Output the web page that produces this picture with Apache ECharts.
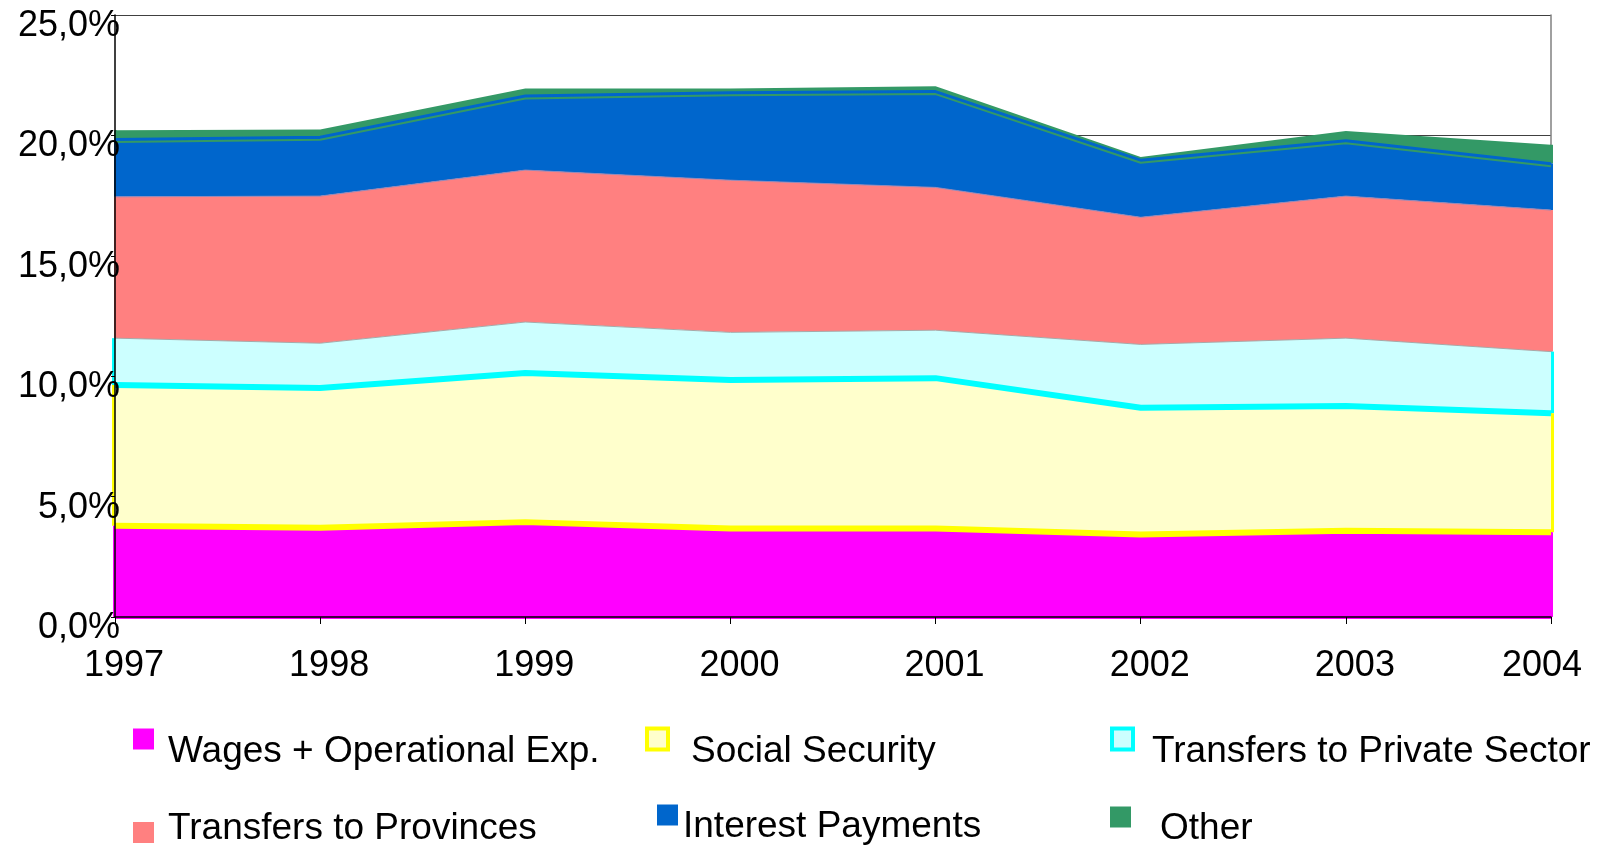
<!DOCTYPE html>
<html>
<head>
<meta charset="utf-8">
<script src="https://cdn.jsdelivr.net/npm/echarts@6/dist/echarts.min.js"></script>
<style>
  html, body { margin: 0; padding: 0; background: #ffffff; }
  #chart { width: 1599px; height: 846px; }
</style>
</head>
<body>
<div id="chart"></div>
<script>
// Years on the horizontal axis
const years = ['1997', '1998', '1999', '2000', '2001', '2002', '2003', '2004'];

// Expenditure components, % of GDP (stacked in this order)
const wages = [3.79, 3.71, 3.94, 3.68, 3.68, 3.43, 3.58, 3.52];
const socialSecurity = [5.84, 5.80, 6.19, 6.16, 6.24, 5.26, 5.18, 4.94];
const privateTransfers = [1.95, 1.86, 2.12, 1.98, 1.99, 2.63, 2.82, 2.56];
const provinces = [5.87, 6.11, 6.31, 6.32, 5.93, 5.28, 5.90, 5.88];
const interest = [2.40, 2.46, 3.10, 3.65, 4.00, 2.39, 2.32, 1.94];
const other = [0.36, 0.31, 0.29, 0.16, 0.20, 0.11, 0.38, 0.77];

// Value axis ticks and their labels
const yTickValues = [0, 5, 10, 15, 20, 25];
const yTickLabels = ['0,0%', '5,0%', '10,0%', '15,0%', '20,0%', '25,0%'];

const seriesNames = [
  'Wages + Operational Exp.',
  'Social Security',
  'Transfers to Private Sector',
  'Transfers to Provinces',
  'Interest Payments',
  'Other'
];
const layers = [wages, socialSecurity, privateTransfers, provinces, interest, other];

const FONT = '"Liberation Sans", Arial, Helvetica, sans-serif';

// Drawing style of each layer: fill, outline on the side edges, and the line on its top boundary
const looks = [
  { fill: '#FF00FF', edge: '#FF00FF', edgeW: 4, top: { color: '#FFFF00', width: 6 } },
  { fill: '#FFFFCC', edge: '#FFFF00', edgeW: 6, top: { color: '#00FFFF', width: 6 } },
  { fill: '#CCFFFF', edge: '#00FFFF', edgeW: 6, top: { color: '#A8A8A8', width: 1 } },
  { fill: '#FF8080', edge: '#FF8080', edgeW: 3, top: { color: '#9488B8', width: 1 } },
  { fill: '#0066CC', edge: '#0066CC', edgeW: 3,
    top: { color: '#0066CC', width: 2, shadowColor: '#339966', shadowBlur: 0, shadowOffsetX: 0, shadowOffsetY: 3 } },
  { fill: '#339966', edge: '#339966', edgeW: 3, top: { width: 0, opacity: 0 } }
];

// Running stack bottoms/tops, used for the outline strokes at the two ends
const stackBounds = [];
let running = years.map(() => 0);
layers.forEach(arr => {
  const base = running;
  running = running.map((v, i) => v + arr[i]);
  stackBounds.push({ base, top: running });
});

const last = years.length - 1;
const series = layers.map((arr, k) => {
  const look = looks[k];
  const b = stackBounds[k];
  const edgeLines = [
    [{ coord: [years[0], b.base[0]] }, { coord: [years[0], b.top[0]] }],
    [{ coord: [years[last], b.base[last]] }, { coord: [years[last], b.top[last]] }]
  ];
  if (k === 0) {
    edgeLines.push([{ coord: [years[0], 0] }, { coord: [years[last], 0] }]);
  }
  return {
    name: seriesNames[k],
    type: 'line',
    stack: 'total',
    data: arr,
    xAxisIndex: 0,
    yAxisIndex: 0,
    symbol: 'none',
    showSymbol: false,
    silent: true,
    z: 8 - k,
    itemStyle: { color: look.fill },
    lineStyle: look.top,
    areaStyle: { color: look.fill, opacity: 1 },
    emphasis: { disabled: true },
    markLine: {
      silent: true,
      symbol: 'none',
      label: { show: false },
      z: 8 - k,
      animation: false,
      lineStyle: { color: look.edge, width: look.edgeW, type: 'solid' },
      emphasis: { disabled: true },
      data: edgeLines
    }
  };
});

// Legend: two rows of three entries. "lift" is an empty rich-text line that
// moves the caption below (positive) or above (negative) the centre of its swatch.
const legendSpots = [
  { left: 133, top: 717, gap: 9, lift: 26 },
  { left: 645, top: 717, gap: 18, lift: 26 },
  { left: 1110, top: 717, gap: 14, lift: 26 },
  { left: 133, top: 810, gap: 9, lift: -8 },
  { left: 657, top: 793, gap: 0, lift: 23 },
  { left: 1110, top: 795, gap: 24, lift: 23 }
];
const legendIcons = [
  { color: '#FF00FF', borderWidth: 0 },
  { color: '#FFFFCC', borderColor: '#FFFF00', borderWidth: 4 },
  { color: '#CCFFFF', borderColor: '#00FFFF', borderWidth: 4 },
  { color: '#FF8080', borderWidth: 0 },
  { color: '#0066CC', borderWidth: 0 },
  { color: '#339966', borderWidth: 0 }
];
const legends = seriesNames.map((name, k) => {
  const spot = legendSpots[k];
  const h = Math.abs(spot.lift);
  return {
    show: true,
    left: spot.left,
    top: spot.top,
    orient: 'horizontal',
    icon: 'rect',
    itemWidth: 21,
    itemHeight: 21,
    itemGap: 0,
    padding: 0,
    selectedMode: false,
    formatter: n => spot.lift >= 0 ? '{s| }\n{t|' + n + '}' : '{t|' + n + '}\n{s| }',
    textStyle: {
      color: '#000000',
      fontFamily: FONT,
      fontSize: 37,
      padding: [0, 0, 0, spot.gap],
      rich: {
        s: { fontSize: 2, lineHeight: h, fontFamily: FONT },
        t: { fontSize: 37, lineHeight: 42, fontFamily: FONT, color: '#000000' }
      }
    },
    data: [{ name: name, icon: 'rect', itemStyle: legendIcons[k] }]
  };
});

const xLabels = years.map((y, i) => i === last
  ? { value: y, textStyle: { padding: [0, 18, 0, 0] } }
  : y);

const option = {
  animation: false,
  backgroundColor: '#ffffff',
  grid: {
    left: 115, top: 15, right: 48, bottom: 229,
    containLabel: false, outerBoundsMode: 'none', show: false
  },
  legend: legends,
  xAxis: [
    {
      type: 'category',
      data: xLabels,
      boundaryGap: false,
      position: 'bottom',
      z: 10,
      axisLine: { show: true, lineStyle: { color: '#000000', width: 1.5 } },
      axisTick: { show: true, length: 7, lineStyle: { color: '#000000', width: 1 } },
      axisLabel: {
        show: true, color: '#000000', fontSize: 36, fontFamily: FONT,
        margin: 39, verticalAlign: 'top', lineHeight: 20,
        padding: [0, 0, 0, 18], interval: 0
      },
      splitLine: { show: false }
    },
    {
      type: 'category',
      data: years,
      boundaryGap: false,
      position: 'top',
      z: 1,
      axisLine: { show: true, lineStyle: { color: '#808080', width: 1.5 } },
      axisTick: { show: false },
      axisLabel: { show: false },
      splitLine: { show: false }
    }
  ],
  yAxis: [
    {
      type: 'value',
      min: yTickValues[0],
      max: yTickValues[yTickValues.length - 1],
      interval: 5,
      position: 'left',
      z: 0,
      axisLine: { show: false },
      axisTick: { show: false },
      axisLabel: { show: false },
      splitLine: { show: true, lineStyle: { color: '#404040', width: 1 } }
    },
    {
      type: 'value',
      min: yTickValues[0],
      max: yTickValues[yTickValues.length - 1],
      interval: 5,
      position: 'left',
      z: 10,
      axisLine: { show: true, onZero: false, lineStyle: { color: '#000000', width: 1.5 } },
      axisTick: { show: true, length: 4, lineStyle: { color: '#000000' } },
      axisLabel: {
        show: true, color: '#000000', fontSize: 36, fontFamily: FONT, margin: -5,
        verticalAlign: 'top', lineHeight: 22,
        formatter: v => yTickLabels[yTickValues.indexOf(v)]
      },
      splitLine: { show: false }
    },
    {
      type: 'value',
      min: yTickValues[0],
      max: yTickValues[yTickValues.length - 1],
      interval: 5,
      position: 'right',
      z: 1,
      axisLine: { show: true, onZero: false, lineStyle: { color: '#808080', width: 1.5 } },
      axisTick: { show: false },
      axisLabel: { show: false },
      splitLine: { show: false }
    }
  ],
  series: series
};

const chart = echarts.init(document.getElementById('chart'), null, { renderer: 'canvas' });
chart.setOption(option);
</script>
</body>
</html>
